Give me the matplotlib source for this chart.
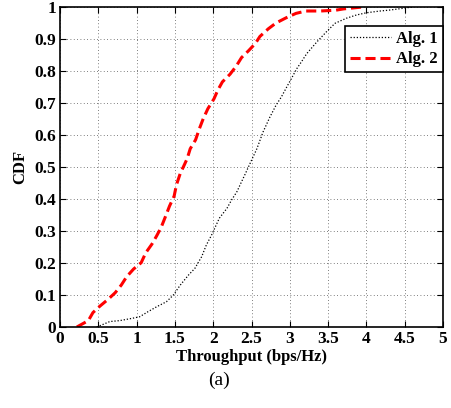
import matplotlib
matplotlib.use("Agg")
import matplotlib.pyplot as plt
import numpy as np

# Alg. 1 (black dotted) CDF
alg1_x = [0.48, 0.65, 0.78, 0.94, 1.04, 1.15, 1.26, 1.39, 1.48, 1.57, 1.68, 1.76, 1.85, 1.91,
          1.98, 2.08, 2.18, 2.24, 2.31, 2.37, 2.41, 2.50, 2.57, 2.65, 2.74, 2.82, 2.89, 2.96,
          3.02, 3.09, 3.15, 3.22, 3.35, 3.48, 3.59, 3.74, 3.87, 4.00, 4.18, 4.29, 4.45, 4.60]
alg1_y = [0.0, 0.017, 0.02, 0.027, 0.032, 0.048, 0.063, 0.079, 0.10, 0.131, 0.163, 0.183, 0.22, 0.256,
          0.288, 0.34, 0.371, 0.397, 0.423, 0.454, 0.474, 0.521, 0.557, 0.609, 0.656, 0.693, 0.719, 0.75,
          0.776, 0.807, 0.828, 0.854, 0.89, 0.923, 0.949, 0.965, 0.975, 0.982, 0.9875, 0.99, 0.995, 1.0]

# Alg. 2 (red dashed)
alg2_x = [0.22, 0.37, 0.43, 0.52, 0.63, 0.72, 0.80, 0.87, 0.96, 1.06, 1.12, 1.20, 1.26, 1.32,
          1.38, 1.43, 1.49, 1.52, 1.57, 1.61, 1.66, 1.70, 1.77, 1.82, 1.87, 1.93, 2.01, 2.06,
          2.12, 2.22, 2.30, 2.37, 2.46, 2.55, 2.61, 2.72, 2.82, 2.95, 3.08, 3.21, 3.40, 3.60,
          3.70, 3.95]
alg2_y = [0.0, 0.02, 0.045, 0.065, 0.087, 0.107, 0.131, 0.157, 0.181, 0.201, 0.232, 0.259, 0.284, 0.311,
          0.347, 0.378, 0.409, 0.444, 0.48, 0.50, 0.526, 0.557, 0.585, 0.62, 0.651, 0.682, 0.713, 0.74,
          0.766, 0.79, 0.815, 0.842, 0.863, 0.886, 0.908, 0.932, 0.95, 0.966, 0.98, 0.9875, 0.9875, 0.99,
          0.994, 1.0]

plt.rcParams['font.family'] = ['Liberation Serif', 'DejaVu Serif']

fig = plt.figure(figsize=(4.52, 4.08), dpi=100)
ax = fig.add_axes([60/452, 81/408, 383/452, 320/408])

ax.plot(alg1_x, alg1_y, color="black", linestyle=(0, (1, 1.5)), linewidth=0.9, label="Alg. 1")
ax.plot(alg2_x, alg2_y, color="red", linestyle=(0, (3.3, 1.6)), linewidth=2.2, label="Alg. 2")

ax.set_xlim(0, 5)
ax.set_ylim(0, 1)
ax.set_xticks(np.arange(0, 5.01, 0.5))
ax.set_yticks(np.arange(0, 1.01, 0.1))
ax.set_xticklabels(["0", "0.5", "1", "1.5", "2", "2.5", "3", "3.5", "4", "4.5", "5"])
ax.set_yticklabels(["0", "0.1", "0.2", "0.3", "0.4", "0.5", "0.6", "0.7", "0.8", "0.9", "1"])
ax.grid(True, color="#555555", linestyle=(0, (1, 3)), linewidth=0.6)
ax.tick_params(direction="in", top=True, right=True, length=4, width=0.8,
               labelsize=12.5, pad=3)
for lab in ax.get_xticklabels() + ax.get_yticklabels():
    lab.set_fontweight("bold")
for sp in ax.spines.values():
    sp.set_linewidth(1.2)

ax.set_xlabel("Throughput (bps/Hz)", fontsize=12, fontweight="bold", labelpad=1)
ax.set_ylabel("CDF", fontsize=12, fontweight="bold", labelpad=4)

leg = ax.legend(loc="upper right", bbox_to_anchor=(1.0, 0.94), fancybox=False, framealpha=1,
                edgecolor="black", prop={"weight": "bold", "size": 12},
                handlelength=2.5, borderpad=0.3, labelspacing=0.25, handletextpad=0.3,
                borderaxespad=0)
leg.get_frame().set_linewidth(1.2)

fig.text(219/452, 1 - 380/408, "(a)", ha="center", va="center", fontsize=14)

fig.savefig("out.png", dpi=100)
